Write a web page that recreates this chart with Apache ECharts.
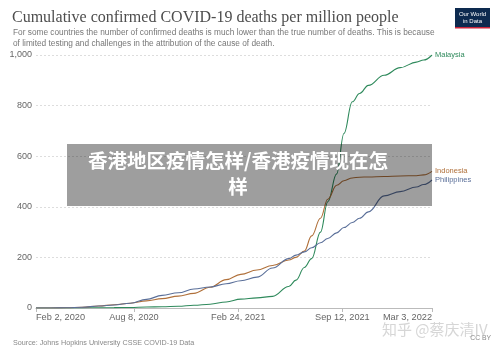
<!DOCTYPE html>
<html>
<head>
<meta charset="utf-8">
<script src="https://cdn.jsdelivr.net/npm/echarts@6/dist/echarts.min.js"></script>
<style>
  html, body { margin: 0; padding: 0; background: #fff; }
  #chart { width: 500px; height: 352px; }
</style>
</head>
<body>
<div id="chart"></div>
<script>
var dates = [
  "2020-02-02", "2020-03-01", "2020-04-01", "2020-05-01", "2020-06-01", "2020-07-01",
  "2020-08-01", "2020-09-01", "2020-10-01", "2020-11-01", "2020-12-01", "2021-01-01",
  "2021-02-01", "2021-03-01", "2021-04-01", "2021-05-01", "2021-06-01", "2021-06-15",
  "2021-07-01", "2021-07-15", "2021-08-01", "2021-08-15", "2021-09-01", "2021-09-15",
  "2021-10-01", "2021-10-15", "2021-11-01", "2021-12-01", "2022-01-01", "2022-02-01",
  "2022-02-15", "2022-03-03"
];
var malaysia = [0, 0, 0, 0.5, 1, 1.5, 2, 4, 5, 7, 11, 15, 24, 35, 40, 46, 85, 110,
  160, 195, 300, 420, 530, 690, 815, 848, 880, 920, 950, 972, 980, 1000];
var indonesia = [0, 0, 1, 3, 8, 13, 19, 28, 37, 47, 58, 82, 112, 133, 150, 168, 190, 200,
  225, 285, 355, 430, 485, 503, 514, 517, 518, 520, 522, 523, 526, 540];
var philippines = [0, 0, 1, 3, 8, 12, 19, 34, 50, 60, 75, 83, 96, 108, 122, 158, 195, 209,
  222, 238, 258, 275, 297, 318, 338, 355, 380, 443, 460, 478, 488, 506];

var xTickDates = ["2020-02-02", "2020-08-08", "2021-02-24", "2021-09-12", "2022-03-03"];
var yTicks = [0, 200, 400, 600, 800, 1000];

var months = ["Jan", "Feb", "Mar", "Apr", "May", "Jun", "Jul", "Aug", "Sep", "Oct", "Nov", "Dec"];
var DAY = 86400000;
var start = Date.UTC(2020, 1, 2);
// days since Feb 2, 2020
function toDay(s) {
  var p = s.split("-");
  return Math.round((Date.UTC(+p[0], +p[1] - 1, +p[2]) - start) / DAY);
}
function pairs(vals) {
  return dates.map(function (d, i) { return [toDay(d), vals[i]]; });
}

var myChart = echarts.init(document.getElementById("chart"));
var sans = "'Liberation Sans', Arial, sans-serif";

function lineSeries(name, vals, color) {
  return {
    name: name,
    type: "line",
    data: pairs(vals),
    smooth: 0.4,
    smoothMonotone: "x",
    symbol: "none",
    lineStyle: { color: color, width: 1.1 },
    itemStyle: { color: color },
    endLabel: {
      show: true,
      formatter: name,
      color: color,
      fontSize: 7.5,
      fontFamily: sans,
      distance: 3
    },
    z: 2
  };
}

myChart.setOption({
  animation: false,
  grid: { left: 36, right: 68, top: 55, bottom: 44 },
  title: [
    {
      text: "Cumulative confirmed COVID-19 deaths per million people",
      left: 7, top: 5,
      textStyle: { fontFamily: "'Liberation Serif', serif", fontSize: 16, fontWeight: "normal", color: "#4d4d4d" }
    },
    {
      text: "For some countries the number of confirmed deaths is much lower than the true number of deaths. This is because\nof limited testing and challenges in the attribution of the cause of death.",
      left: 8, top: 22,
      textStyle: { fontFamily: sans, fontSize: 8.3, fontWeight: "normal", color: "#777", lineHeight: 11 }
    },
    {
      text: "Source: Johns Hopkins University CSSE COVID-19 Data",
      left: 8, top: 335,
      textStyle: { fontFamily: sans, fontSize: 7.2, fontWeight: "normal", color: "#888" }
    }
  ],
  xAxis: {
    type: "value",
    min: toDay(xTickDates[0]),
    max: toDay(xTickDates[xTickDates.length - 1]),
    axisLine: { lineStyle: { color: "#bbb" } },
    axisTick: {
      show: true, length: 4,
      customValues: xTickDates.map(toDay),
      lineStyle: { color: "#bbb" }
    },
    splitLine: { show: false },
    axisLabel: {
      customValues: xTickDates.map(toDay),
      alignMinLabel: "left",
      alignMaxLabel: "right",
      color: "#666",
      fontSize: 9.2,
      fontFamily: sans,
      margin: 5,
      formatter: function (v) {
        var d = new Date(start + v * DAY);
        return months[d.getUTCMonth()] + " " + d.getUTCDate() + ", " + d.getUTCFullYear();
      }
    }
  },
  yAxis: {
    type: "value",
    min: 0, max: 1000, interval: 200,
    axisLine: { show: false },
    axisTick: { show: false },
    splitLine: { lineStyle: { color: "#ddd", type: [2, 2] } },
    axisLabel: {
      customValues: yTicks,
      color: "#666",
      fontSize: 9,
      fontFamily: sans,
      margin: 4,
      formatter: function (v) { return v.toLocaleString("en-US"); }
    }
  },
  series: [
    lineSeries("Malaysia", malaysia, "#2f8a5c"),
    lineSeries("Indonesia", indonesia, "#b0703a"),
    lineSeries("Philippines", philippines, "#5a6f99")
  ],
  graphic: [
    {
      type: "group", left: 455, top: 8,
      children: [
        { type: "rect", shape: { x: 0, y: 0, width: 35, height: 20 }, style: { fill: "#0d2a4f" } },
        { type: "rect", shape: { x: 0, y: 19, width: 35, height: 1.5 }, style: { fill: "#c9253a" } },
        {
          type: "text", x: 17.5, y: 2.5,
          style: { text: "Our World\nin Data", fill: "#fff", fontSize: 6, lineHeight: 7, align: "center", fontFamily: sans }
        }
      ]
    },
    {
      type: "rect", z: 100,
      shape: { x: 67, y: 144, width: 365, height: 62 },
      style: { fill: "rgba(0,0,0,0.38)" }
    },
    {
      type: "text", z: 101, x: 238, y: 148,
      style: {
        text: "香港地区疫情怎样/香港疫情现在怎\n样",
        fill: "#fff",
        fontSize: 19.5,
        fontWeight: "bold",
        lineHeight: 26,
        align: "center",
        fontFamily: "'Noto Sans CJK SC', sans-serif"
      }
    },
    {
      type: "text", z: 90, x: 382, y: 322,
      style: {
        text: "知乎 @蔡庆清IV",
        fill: "rgba(200,200,200,0.75)",
        fontSize: 15,
        fontFamily: "'Noto Sans CJK SC', sans-serif"
      }
    },
    {
      type: "text", x: 491, y: 335, z: 91,
      style: { text: "CC BY", fill: "#888", fontSize: 6.8, align: "right", fontFamily: sans }
    }
  ]
});
</script>
</body>
</html>
